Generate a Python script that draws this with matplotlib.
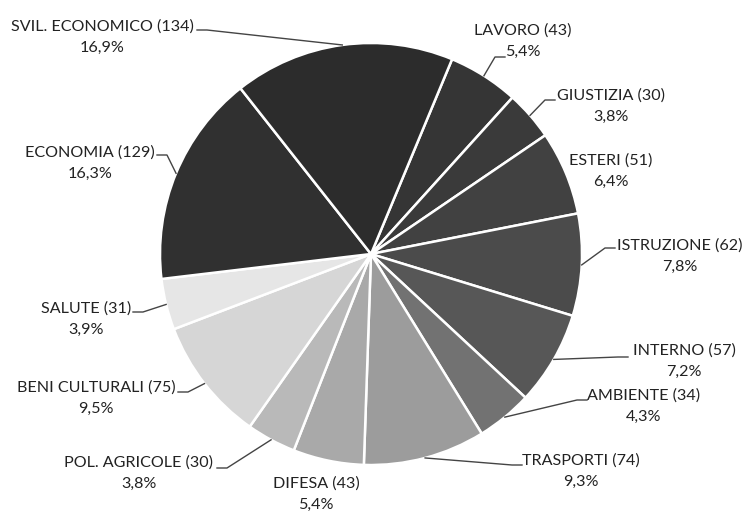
import numpy as np
import matplotlib
matplotlib.use("Agg")
import matplotlib.pyplot as plt

plt.rcParams['font.family'] = ['Lato', 'DejaVu Sans']

# ministeri, in ordine orario a partire da LAVORO
labels = ["LAVORO", "GIUSTIZIA", "ESTERI", "ISTRUZIONE", "INTERNO", "AMBIENTE",
          "TRASPORTI", "DIFESA", "POL. AGRICOLE", "BENI CULTURALI", "SALUTE",
          "ECONOMIA", "SVIL. ECONOMICO"]
counts = [43, 30, 51, 62, 57, 34, 74, 43, 30, 75, 31, 129, 134]
grays = ["#353535", "#3a3a3a", "#414141", "#4b4b4b", "#575757", "#727272",
         "#9c9c9c", "#a9a9a9", "#b9b9b9", "#d6d6d6", "#e6e6e6",
         "#303030", "#2c2c2c"]

# posizione etichette (pixel) e punto di attacco della linea guida (None = niente linea)
label_px = [(523, 41), (611, 106), (611, 171), (680, 256), (684, 361), (644, 406),
            (581, 471), (316, 494), (139, 473), (96, 398), (86, 319),
            (90, 163), (102, 37)]
attach_px = [(505, 57), (555, 100), None, (615, 248), (628, 357), (587, 400),
             (522, 465), None, (217, 468), (178, 392), (133, 312),
             (157, 155), (197, 30)]

W, H = 745, 511
cx, cy, R = 371, 254, 211
start = 22.6  # gradi in senso orario dalle 12

fig = plt.figure(figsize=(W / 100, H / 100), dpi=100)
ax = fig.add_axes([0, 0, 1, 1])

def px(p):
    return ((p[0] - cx) / R, (cy - p[1]) / R)

ax.pie(counts, colors=grays, startangle=90 - start, counterclock=False,
       radius=1.0, center=(0, 0), frame=True,
       wedgeprops=dict(edgecolor='white', linewidth=1.8))
ax.set_xlim(-cx / R, (W - cx) / R)
ax.set_ylim((cy - H) / R, cy / R)
ax.set_aspect('auto')
ax.axis('off')

total = sum(counts)
acc = 0
for lab, n, lp, ap in zip(labels, counts, label_px, attach_px):
    mid = start + (acc + n / 2) / total * 360
    acc += n
    pct = f"{n / total * 100:.1f}".replace(".", ",")
    tx, ty = px(lp)
    ax.text(tx, ty, f"{lab} ({n})\n{pct}%", ha='center', va='center',
            fontsize=11.6, color='#222222', linespacing=1.65)
    if ap is None:
        continue
    th = np.radians(mid)
    ex, ey = np.sin(th), np.cos(th)
    step = 10 if ap[0] < cx + R * ex else -10
    a = px(ap)
    b = px((ap[0] + step, ap[1]))
    ax.plot([a[0], b[0], ex], [a[1], b[1], ey], color='#444444', lw=1.0)

fig.savefig("out.png", dpi=100)
